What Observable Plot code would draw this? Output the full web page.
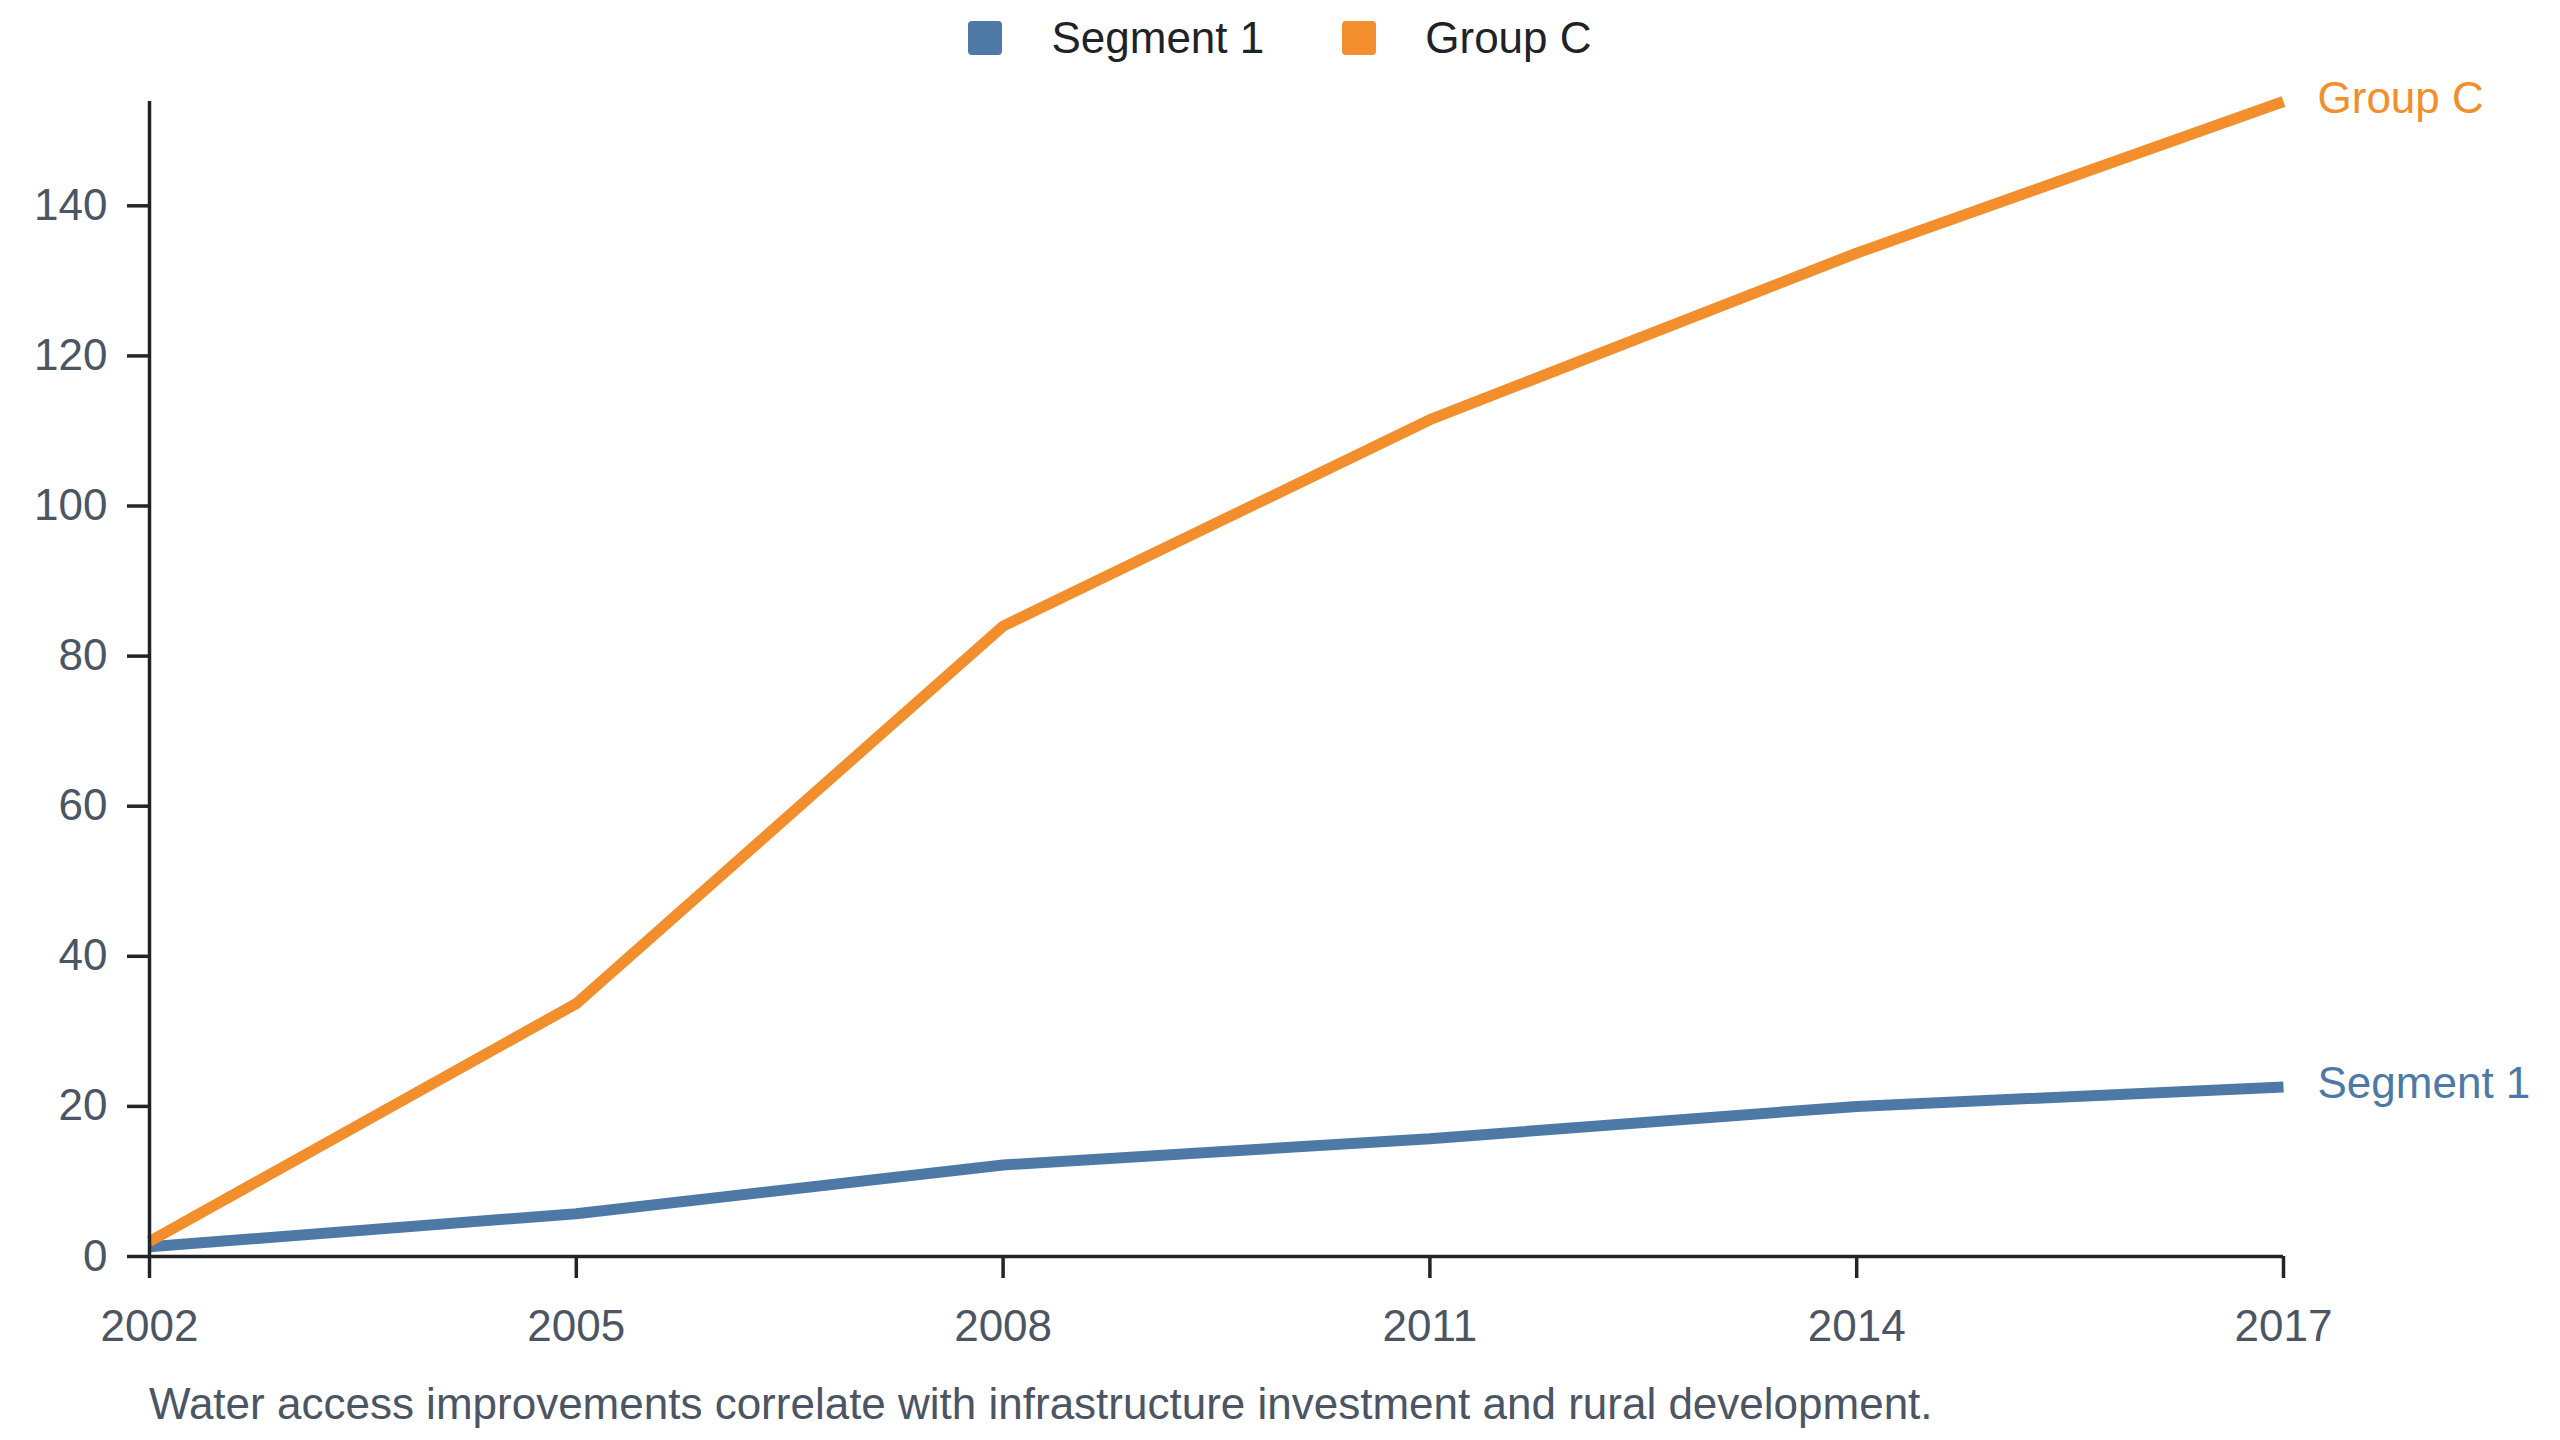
<!DOCTYPE html>
<html>
<head>
<meta charset="utf-8">
<script src="https://cdn.jsdelivr.net/npm/d3@7"></script>
<script src="https://cdn.jsdelivr.net/npm/@observablehq/plot@0.6"></script>
<style>
  html, body { margin: 0; padding: 0; background: #ffffff; }
  body { width: 2560px; height: 1440px; position: relative; overflow: hidden; font-family: "Liberation Sans", Arial, sans-serif; }
  #legend { position: absolute; left: 0; top: 0; width: 2560px; height: 76px; display: flex; justify-content: center; align-items: center; z-index: 2; }
  .item { display: flex; align-items: center; margin: 0 39px; }
  .sw { width: 34px; height: 34px; border-radius: 4px; margin-right: 49px; }
  .lab { font-size: 44px; color: #1f2328; line-height: 44px; }
  #chart { position: absolute; left: 0; top: 56px; z-index: 1; }
  #caption { position: absolute; left: 149px; top: 1382px; font-size: 44px; line-height: 44px; color: #4b5563; white-space: nowrap; }
</style>
</head>
<body>
<div id="legend"></div>
<div id="chart"></div>
<div id="caption"></div>
<script>
const years = [2002, 2005, 2008, 2011, 2014, 2017];
const seriesNames = ["Segment 1", "Group C"];
const segment1 = [1.3, 5.7, 12.2, 15.7, 20.0, 22.6];
const groupC = [2.0, 33.7, 84.0, 111.5, 133.7, 153.9];
const colors = ["#4e79a7", "#f28e2b"];
const yTicks = [0, 20, 40, 60, 80, 100, 120, 140];
const xTicks = [2002, 2005, 2008, 2011, 2014, 2017];
const captionText = "Water access improvements correlate with infrastructure investment and rural development.";

const data = [];
years.forEach((yr, i) => data.push({year: yr, value: segment1[i], series: seriesNames[0]}));
years.forEach((yr, i) => data.push({year: yr, value: groupC[i], series: seriesNames[1]}));

const legend = document.getElementById("legend");
seriesNames.forEach((name, i) => {
  const item = document.createElement("div");
  item.className = "item";
  const sw = document.createElement("div");
  sw.className = "sw";
  sw.style.background = colors[i];
  const lab = document.createElement("span");
  lab.className = "lab";
  lab.textContent = name;
  item.appendChild(sw);
  item.appendChild(lab);
  legend.appendChild(item);
});
document.getElementById("caption").textContent = captionText;

const axisColor = "#222428";
const textColor = "#4b5563";

const chart = Plot.plot({
  width: 2560,
  height: 1299,
  marginLeft: 149,
  marginRight: 277,
  marginTop: 45,
  marginBottom: 99,
  style: {fontFamily: "'Liberation Sans', Arial, sans-serif", fontSize: "44px", background: "transparent", overflow: "visible"},
  x: {type: "linear", domain: [2002, 2017]},
  y: {domain: [0, d3.max(groupC)]},
  color: {domain: seriesNames, range: colors},
  marks: [
    Plot.axisX({ticks: xTicks, tickSize: 22, tickPadding: 31, tickFormat: d => String(d), stroke: axisColor, strokeWidth: 3.5, fill: textColor, fontSize: 44, label: null}),
    Plot.axisY({ticks: yTicks, tickSize: 22, tickPadding: 20, stroke: axisColor, strokeWidth: 3.5, fill: textColor, fontSize: 44, label: null}),
    Plot.line(data, {x: "year", y: "value", z: "series", stroke: "series", strokeWidth: 11, strokeLinecap: "butt", strokeLinejoin: "miter"}),
    Plot.ruleX([2002], {stroke: axisColor, strokeWidth: 3.5}),
    Plot.ruleY([0], {stroke: axisColor, strokeWidth: 3.5}),
    Plot.text(data, Plot.selectLast({x: "year", y: "value", z: "series", text: "series", fill: "series", dx: 34, dy: -3, textAnchor: "start", fontSize: 44}))
  ]
});
document.getElementById("chart").appendChild(chart);
</script>
</body>
</html>
